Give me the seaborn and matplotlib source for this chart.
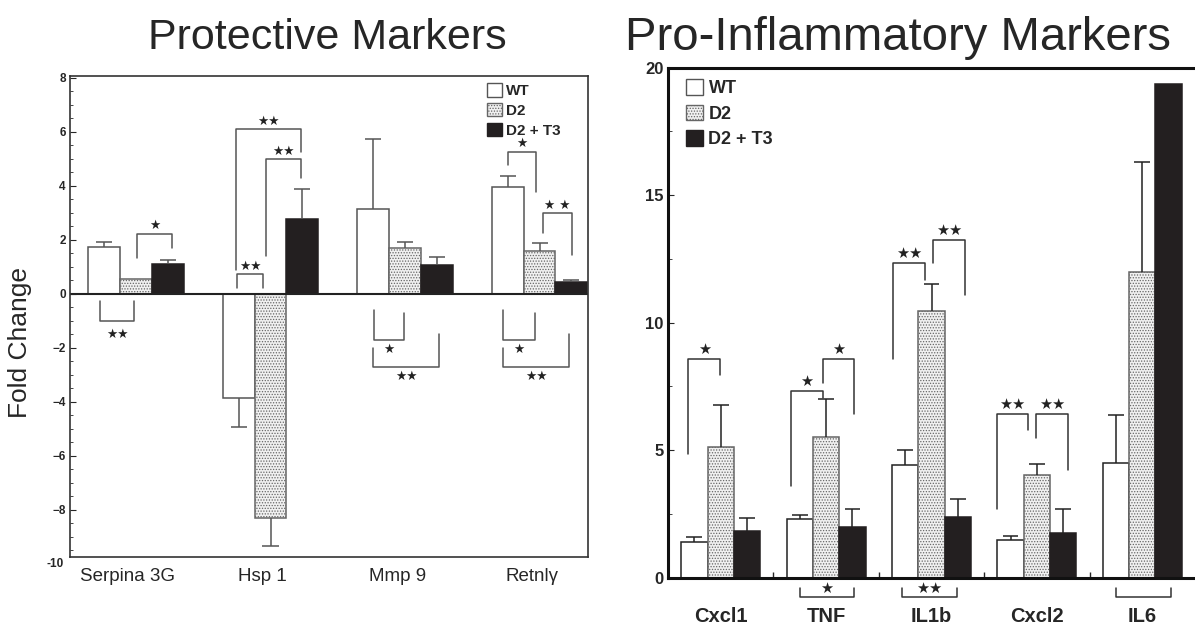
import matplotlib
matplotlib.use("Agg")
import matplotlib.pyplot as plt
import matplotlib.transforms as mtransforms
from matplotlib.patches import Patch
from matplotlib.ticker import MultipleLocator, FixedLocator
import pandas as pd
import seaborn as sns

sns.set_style("ticks")
plt.rcParams["font.family"] = ["Liberation Sans", "DejaVu Sans"]
plt.rcParams["hatch.linewidth"] = 0.6

groups = ["WT", "D2", "D2 + T3"]

# Protective markers (fold change, bar tops and error bar ends)
prot_genes = ["Serpina 3G", "Hsp 1", "Mmp 9", "Retnlγ"]
prot_wt = [1.73, -3.88, 3.13, 3.93]
prot_d2 = [0.55, -8.33, 1.70, 1.59]
prot_t3 = [1.09, 2.77, 1.07, 0.43]
prot_wt_err = [1.92, -4.93, 5.71, 4.35]
prot_d2_err = [None, -9.34, 1.90, 1.88]
prot_t3_err = [1.25, 3.86, 1.34, 0.50]

# Pro-inflammatory markers
infl_genes = ["Cxcl1", "TNF", "IL1b", "Cxcl2", "IL6"]
infl_wt = [1.39, 2.29, 4.42, 1.49, 4.51]
infl_d2 = [5.14, 5.53, 10.47, 4.03, 11.98]
infl_t3 = [1.83, 2.00, 2.37, 1.77, 19.35]
infl_wt_err = [1.61, 2.46, 5.01, 1.65, 6.37]
infl_d2_err = [6.77, 7.02, 11.52, 4.45, 16.31]
infl_t3_err = [2.33, 2.68, 3.07, 2.68, None]

# significance brackets:
# (gene, end a, end b, bracket y, leg a end, leg b end, label, label y)
# ends are bar slots within the gene: 0 = WT, 1 = D2, 2 = D2 + T3
prot_brackets = [
    (0, 1.04, 2.14, 2.22, 1.30, 1.67, "★", 2.52),
    (1, -0.08, 1.97, 6.08, 0.87, 5.25, "★★", 6.38),
    (1, 0.86, 1.97, 4.98, 1.39, 4.27, "★★", 5.28),
    (1, -0.05, 0.77, 0.72, 0.21, 0.21, "★★", 1.00),
    (3, 0.01, 0.89, 5.25, 4.76, 3.75, "★", 5.55),
    (3, 1.11, 2.02, 2.98, 2.23, 1.43, "★ ★", 3.28),
    (0, -0.13, 0.94, -1.00, -0.26, -0.26, "★★", -1.50),
    (2, 0.01, 0.98, -1.72, -0.61, -0.73, "★", -2.07),
    (2, -0.01, 2.07, -2.71, -2.03, -1.50, "★★", -3.06),
    (3, -0.14, 0.84, -1.72, -0.61, -0.73, "★", -2.07),
    (3, -0.15, 1.93, -2.71, -2.03, -1.50, "★★", -3.06),
]
infl_brackets = [
    (0, -0.23, 0.98, 8.59, 4.85, 7.95, "★", 8.95),
    (1, -0.34, 0.87, 7.33, 3.60, 7.05, "★", 7.70),
    (1, 0.87, 2.05, 8.59, 7.65, 6.41, "★", 8.95),
    (2, -0.45, 0.76, 12.33, 8.58, 11.67, "★★", 12.70),
    (2, 1.06, 2.27, 13.24, 12.33, 11.09, "★★", 13.60),
    (3, -0.51, 0.66, 6.41, 2.68, 5.79, "★★", 6.78),
    (3, 0.97, 2.18, 6.41, 5.47, 4.22, "★★", 6.78),
    (1, 0.00, 2.05, -0.75, -0.42, -0.42, "★", -0.42),
    (2, -0.12, 1.96, -0.75, -0.42, -0.42, "★★", -0.42),
    (4, 0.00, 2.08, -0.75, -0.42, -0.42, "", 0),
]


def make_df(genes, wt, d2, t3):
    rows = []
    for g, a, b, c in zip(genes, wt, d2, t3):
        rows += [(g, "WT", a), (g, "D2", b), (g, "D2 + T3", c)]
    return pd.DataFrame(rows, columns=["gene", "group", "value"])


def draw_panel(ax, genes, wt, d2, t3, errs, width, edge, cap):
    df = make_df(genes, wt, d2, t3)
    sns.barplot(data=df, x="gene", y="value", hue="group", order=genes,
                hue_order=groups, width=width, errorbar=None, legend=False,
                palette=["white", "#eeeeee", "#231f20"], ax=ax)
    centers = []
    for k, cont in enumerate(ax.containers):
        xs = []
        for p in cont.patches:
            p.set_linewidth(1.1)
            if k == 0:
                p.set_facecolor("white")
                p.set_edgecolor(edge)
            elif k == 1:
                p.set_facecolor("#f0f0f0")
                p.set_edgecolor("#666666")
                p.set_hatch("......")
            else:
                p.set_facecolor("#231f20")
                p.set_edgecolor("#231f20")
            xs.append(p.get_x() + p.get_width() / 2)
        centers.append(xs)
    tops = [wt, d2, t3]
    for k in range(3):
        for i, e in enumerate(errs[k]):
            if e is None:
                continue
            x = centers[k][i]
            ax.vlines(x, tops[k][i], e, color=edge, lw=1.1, zorder=1)
            ax.hlines(e, x - cap, x + cap, color=edge, lw=1.1, zorder=1)
    return centers


def draw_brackets(ax, centers, brackets, color, size):
    for g, a, b, y, ya, yb, label, ly in brackets:
        step = centers[1][g] - centers[0][g]
        xa = centers[0][g] + a * step
        xb = centers[0][g] + b * step
        ax.plot([xa, xa, xb, xb], [ya, y, y, yb], color=color, lw=1.1,
                clip_on=False, zorder=3)
        if label:
            ax.text((xa + xb) / 2, ly, label, ha="center", va="center",
                    fontsize=size, color="#222222", clip_on=False,
                    family=["DejaVu Sans"])


fig = plt.figure(figsize=(11.95, 6.27), dpi=100)

# ---- left panel
ax1 = fig.add_axes([0.0586, 0.1111, 0.4335, 0.7673])
c1 = draw_panel(ax1, prot_genes, prot_wt, prot_d2, prot_t3,
                [prot_wt_err, prot_d2_err, prot_t3_err], 0.708, "#555555", 0.06)
draw_brackets(ax1, c1, prot_brackets, "#555555", 9)
ax1.axhline(0, color="#222222", lw=1.5, zorder=2)
ax1.set_xlim(-0.49, 3.36)
ax1.set_ylim(-9.77, 8.05)
ax1.yaxis.set_major_locator(FixedLocator([-8, -6, -4, -2, 0, 2, 4, 6, 8]))
ax1.yaxis.set_minor_locator(MultipleLocator(0.5))
ax1.tick_params(axis="y", which="major", direction="in", length=4, labelsize=8.5, pad=3)
ax1.tick_params(axis="y", which="minor", direction="in", length=2)
ax1.tick_params(axis="x", length=0, labelsize=13.5, pad=8)
for lab in ax1.get_yticklabels():
    lab.set_fontweight("bold")
ax1.text(-0.012, -10.0, "-10", transform=ax1.get_yaxis_transform(), ha="right",
         va="center", fontsize=8.5, fontweight="bold", clip_on=False)
shift = mtransforms.ScaledTranslation(-8 / 100, 0, fig.dpi_scale_trans)
for lab in ax1.get_xticklabels():
    lab.set_transform(lab.get_transform() + shift)
for s in ax1.spines.values():
    s.set_linewidth(1.2)
    s.set_color("#333333")
ax1.set_xlabel("")
ax1.set_ylabel("")
ax1.legend(handles=[Patch(fc="white", ec="#555555", lw=1),
                    Patch(fc="#f0f0f0", ec="#666666", hatch="......", lw=1),
                    Patch(fc="#231f20", ec="#231f20")],
           labels=groups, loc="upper left", bbox_to_anchor=(0.805, 0.985),
           frameon=False, borderaxespad=0, borderpad=0, handlelength=0.95,
           handleheight=0.95, handletextpad=0.3, labelspacing=0.32,
           prop={"weight": "bold", "size": 11})

# ---- right panel
ax2 = fig.add_axes([0.559, 0.0786, 0.441, 0.8134])
c2 = draw_panel(ax2, infl_genes, infl_wt, infl_d2, infl_t3,
                [infl_wt_err, infl_d2_err, infl_t3_err], 0.75, "#222222", 0.075)
draw_brackets(ax2, c2, infl_brackets, "#333333", 10.5)
ax2.set_xlim(-0.5, 4.5)
ax2.set_ylim(0, 20)
ax2.yaxis.set_major_locator(MultipleLocator(5))
ax2.yaxis.set_minor_locator(MultipleLocator(2.5))
ax2.xaxis.set_minor_locator(FixedLocator([0.5, 1.5, 2.5, 3.5]))
ax2.tick_params(axis="y", which="major", direction="in", length=4, labelsize=12, pad=3)
ax2.tick_params(axis="y", which="minor", direction="in", length=3)
ax2.tick_params(axis="x", which="major", length=0, labelsize=14.5, pad=21)
ax2.tick_params(axis="x", which="minor", direction="in", length=4, width=1)
for lab in ax2.get_yticklabels() + ax2.get_xticklabels():
    lab.set_fontweight("bold")
ax2.spines["right"].set_visible(False)
for name in ["left", "top", "bottom"]:
    ax2.spines[name].set_linewidth(2.2)
    ax2.spines[name].set_color("#111111")
ax2.set_xlabel("")
ax2.set_ylabel("")
ax2.legend(handles=[Patch(fc="white", ec="#555555", lw=1),
                    Patch(fc="#f0f0f0", ec="#666666", hatch="......", lw=1),
                    Patch(fc="#231f20", ec="#231f20")],
           labels=groups, loc="upper left", bbox_to_anchor=(0.034, 0.978),
           frameon=False, borderaxespad=0, borderpad=0, handlelength=0.95,
           handleheight=0.95, handletextpad=0.3, labelspacing=0.42,
           prop={"weight": "bold", "size": 13})

fig.text(327.5 / 1195, 1 - 38 / 627, "Protective Markers", ha="center",
         va="center", fontsize=31)
fig.text(898 / 1195, 1 - 38 / 627, "Pro-Inflammatory Markers", ha="center",
         va="center", fontsize=34)
fig.text(20 / 1195, 1 - 342 / 627, "Fold Change", ha="center", va="center",
         rotation=90, fontsize=19)

fig.savefig("out.png", dpi=100)
